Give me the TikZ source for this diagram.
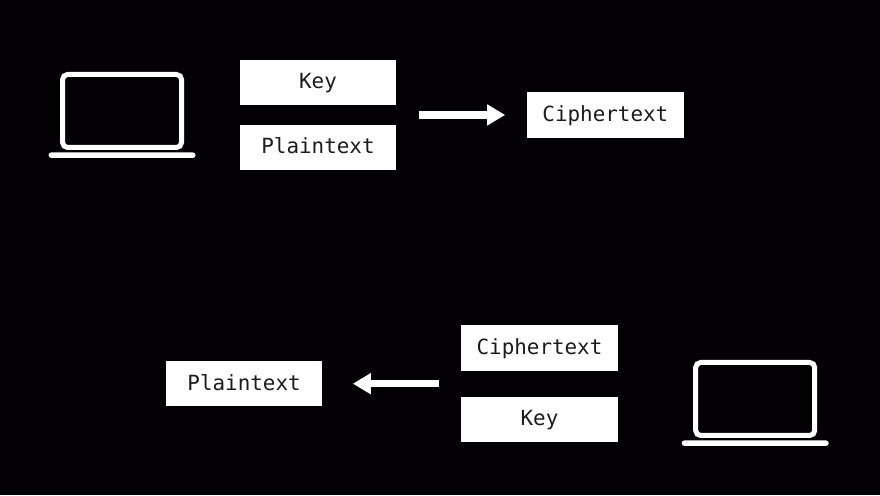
\documentclass[tikz,border=0pt]{standalone}
\usepackage{fontspec}
\usepackage{xcolor}
\usepackage{tikz}
\usetikzlibrary{arrows.meta,positioning,calc}
\setmonofont{DejaVu Sans Mono}
\definecolor{ink}{HTML}{1C1C1C}
\definecolor{night}{HTML}{040105}

\begin{document}
\begin{tikzpicture}[
  x=1pt, y=1pt,
  word/.style={fill=white, text=ink, minimum width=156.5pt, minimum height=45.5pt,
               inner sep=0pt, text height=15pt, text depth=2pt,
               font=\fontsize{20.9}{24}\ttfamily},
  screen/.style={draw=white, line width=5pt, rounded corners=5pt,
                 minimum width=119pt, minimum height=73pt, inner sep=0pt},
  base/.style={fill=white, rounded corners=2.6pt, minimum width=147pt,
               minimum height=5.4pt, inner sep=0pt},
  arr/.style={-{Triangle[length=18pt, width=20pt]}, draw=white, line width=7.6pt}
]
\fill[night] (0,0) rectangle (880,495);
\useasboundingbox (0,0) rectangle (880,495);

% sender
\node[word] at (318,412.5) (key) {Key};
\node[word, below=19pt of key] (plain) {Plaintext};
\coordinate (join) at ($(key.east)!0.5!(plain.east)$);
\node[word, right=130.5pt of join] (cipher) {Ciphertext};
\node[screen, left=55.5pt of key, yshift=-28.5pt] (lap) {};
\node[base, below=2.3pt of lap] (lapbase) {};
\draw[arr, shorten <=22.25pt, shorten >=21.75pt] (join) -- (cipher);

% receiver
\node[word] at (539.5,147) (ckey) {Ciphertext};
\node[word, below=25.5pt of ckey] (rkey) {Key};
\coordinate (rjoin) at ($(ckey.west)!0.5!(rkey.west)$);
\node[word, left=138.5pt of rjoin] (rplain) {Plaintext};
\node[screen, right=75.25pt of ckey, yshift=-51pt] (rlap) {};
\node[base, below=2.3pt of rlap] (rlapbase) {};
\draw[arr, shorten <=22.25pt, shorten >=30.25pt] (rjoin) -- (rplain);
\end{tikzpicture}
\end{document}
